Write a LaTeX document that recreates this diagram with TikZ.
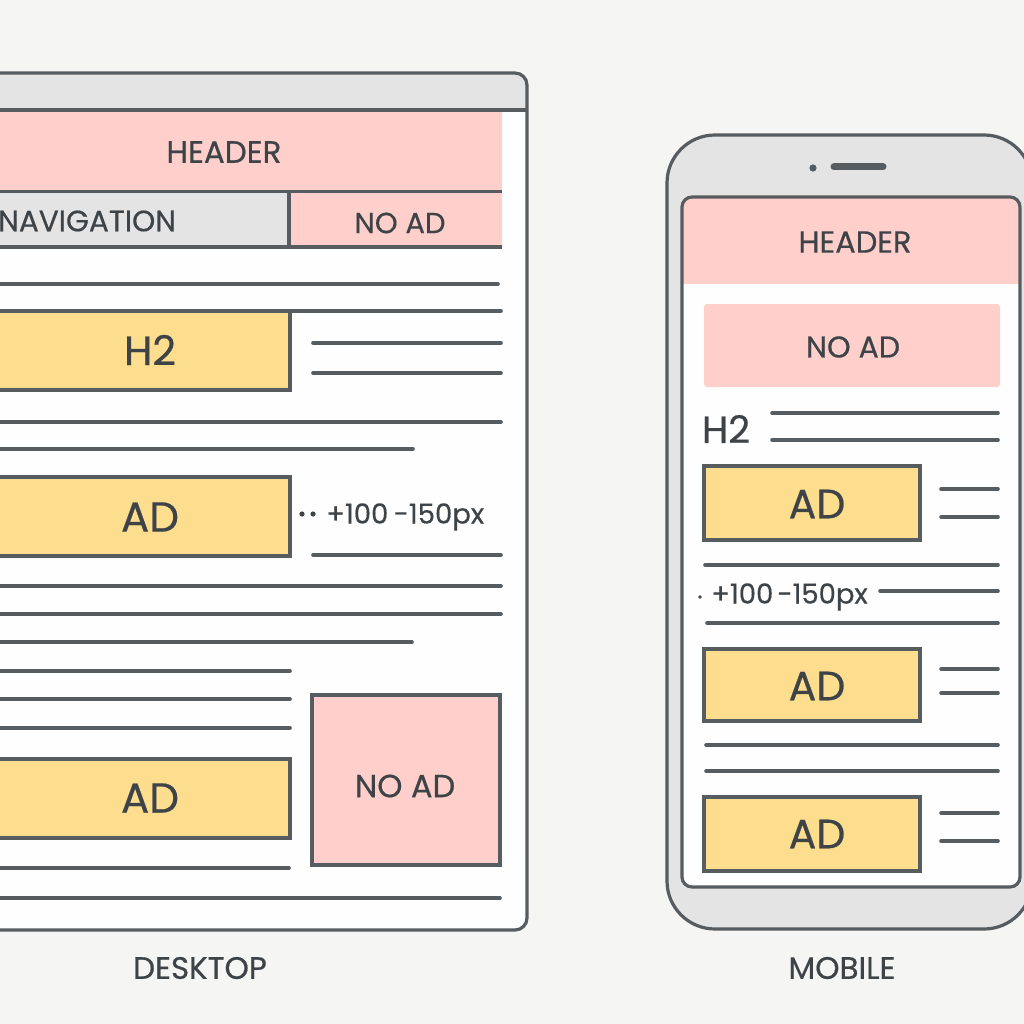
\documentclass[tikz,border=0pt]{standalone}
\usepackage{fontspec}
\setmainfont{Poppins}[FakeBold=0.5]
\begin{document}
\begin{tikzpicture}[x=1pt,y=-1pt,
  ink/.style={draw=strokegray,line width=3.2pt},
  tline/.style={draw=strokegray,line width=3.6pt,line cap=round},
  lbl/.style={text=textgray,inner sep=0pt,anchor=center},
  adbox/.style={ink,fill=adyellow},
  nobox/.style={ink,fill=nopink}]
\definecolor{bg}{HTML}{F5F5F4}
\definecolor{strokegray}{HTML}{575C60}
\definecolor{textgray}{HTML}{3E4347}
\definecolor{nopink}{HTML}{FFD0CB}
\definecolor{adyellow}{HTML}{FDDD8E}
\definecolor{bargray}{HTML}{E4E4E4}
\definecolor{scr}{HTML}{FEFEFE}
\useasboundingbox (0,0) rectangle (1024,1024);
\fill[bg] (0,0) rectangle (1024,1024);
\clip (0,0) rectangle (1024,1024);

% ================= DESKTOP =================
\fill[scr,rounded corners=12pt] (-30,73) rectangle (527,930);
\begin{scope}
  \clip[rounded corners=12pt] (-30,73) rectangle (527,930);
  \fill[bargray] (-30,73) rectangle (527,110);
\end{scope}
\draw[ink] (-30,110) -- (527,110);
% header
\fill[nopink] (-30,112) rectangle (502,190);
\node[lbl,font=\fontsize{31}{33}\selectfont] (dhead) at (224,152) {HEADER};
% navigation row
\fill[bargray] (-30,193) rectangle (289,247);
\fill[nopink] (289,193) rectangle (502,247);
\draw[ink] (-30,191.5) -- (502,191.5);
\draw[ink] (-30,247) -- (502,247);
\draw[ink] (289,192) -- (289,247);
\node[lbl,anchor=west,font=\fontsize{29.5}{31}\selectfont] (dnav) at (-2,221) {NAVIGATION};
\node[lbl,font=\fontsize{29}{31}\selectfont] (dnoad1) at (400,223) {NO AD};
% lines
\draw[tline] (-30,284) -- (498,284);
\draw[tline] (-30,311) -- (501,311);
\draw[adbox] (-30,311) rectangle (290,390);
\node[lbl,font=\fontsize{41}{43}\selectfont] (dh2) at (150,350) {H2};
\draw[tline] (313,343) -- (501,343);
\draw[tline] (313,373) -- (501,373);
\draw[tline] (-30,422) -- (501,422);
\draw[tline] (-30,449) -- (413,449);
\draw[adbox] (-30,477) rectangle (290,556);
\node[lbl,font=\fontsize{42}{44}\selectfont] (dad1) at (150,517) {AD};
\fill[textgray] (302,514) circle (2.6pt);
\fill[textgray] (313,514) circle (2.6pt);
\node[lbl,anchor=west,font=\fontsize{27.5}{29}\selectfont] (dpx) at (326,517) {+100\hspace{0.2em}-150px};
\draw[tline] (313,555) -- (501,555);
\draw[tline] (-30,586) -- (501,586);
\draw[tline] (-30,614) -- (501,614);
\draw[tline] (-30,642) -- (412,642);
\draw[tline] (-30,671) -- (290,671);
\draw[tline] (-30,699) -- (290,699);
\draw[tline] (-30,728) -- (290,728);
\draw[adbox] (-30,759) rectangle (290,838);
\node[lbl,font=\fontsize{42}{44}\selectfont] (dad2) at (150,798) {AD};
\draw[nobox] (312,695) rectangle (500,865);
\node[lbl,font=\fontsize{32}{34}\selectfont] (dnoad2) at (405,786) {NO AD};
\draw[tline] (-30,868) -- (289,868);
\draw[tline] (-30,898) -- (500,898);
\draw[ink,rounded corners=12pt] (-30,73) rectangle (527,930);
\node[lbl,font=\fontsize{31}{33}\selectfont] (dlabel) at (200,968) {DESKTOP};

% ================= MOBILE =================
\draw[ink,fill=bargray,rounded corners=48pt] (667,135) rectangle (1032,929);
\fill[strokegray] (813,168) circle (3.6pt);
\draw[draw=strokegray,line width=7pt,line cap=round] (834,167) -- (883,167);
\fill[scr,rounded corners=10pt] (682,197) rectangle (1020,887);
\begin{scope}
  \clip[rounded corners=10pt] (682,197) rectangle (1020,887);
  \fill[nopink] (682,197) rectangle (1020,284);
\end{scope}
\draw[ink,rounded corners=10pt] (682,197) rectangle (1020,887);
\node[lbl,font=\fontsize{30.5}{32}\selectfont] (mhead) at (855,242) {HEADER};
\fill[nopink,rounded corners=3pt] (704,304) rectangle (1000,387);
\node[lbl,font=\fontsize{30}{32}\selectfont] (mnoad) at (853,347) {NO AD};
\node[lbl,font=\fontsize{38}{40}\selectfont] (mh2) at (726,429) {H2};
\draw[tline] (772,413) -- (998,413);
\draw[tline] (772,440) -- (998,440);
\draw[adbox] (704,466) rectangle (920,540);
\node[lbl,font=\fontsize{41}{43}\selectfont] (mad1) at (817,504) {AD};
\draw[tline] (941,489) -- (998,489);
\draw[tline] (941,517) -- (998,517);
\draw[tline] (705,565) -- (998,565);
\fill[textgray] (700,597) circle (1.8pt);
\node[lbl,anchor=west,font=\fontsize{27.5}{29}\selectfont] (mpx) at (711,597) {+100\hspace{0.15em}-150px};
\draw[tline] (880,591) -- (998,591);
\draw[tline] (707,623) -- (998,623);
\draw[adbox] (704,649) rectangle (920,721);
\node[lbl,font=\fontsize{41}{43}\selectfont] (mad2) at (817,686) {AD};
\draw[tline] (941,669) -- (998,669);
\draw[tline] (941,693) -- (998,693);
\draw[tline] (706,745) -- (998,745);
\draw[tline] (706,771) -- (998,771);
\draw[adbox] (704,797) rectangle (920,871);
\node[lbl,font=\fontsize{41}{43}\selectfont] (mad3) at (817,834) {AD};
\draw[tline] (941,813) -- (998,813);
\draw[tline] (941,841) -- (998,841);
\node[lbl,font=\fontsize{31}{33}\selectfont] (mlabel) at (842,968) {MOBILE};
\end{tikzpicture}
\end{document}
